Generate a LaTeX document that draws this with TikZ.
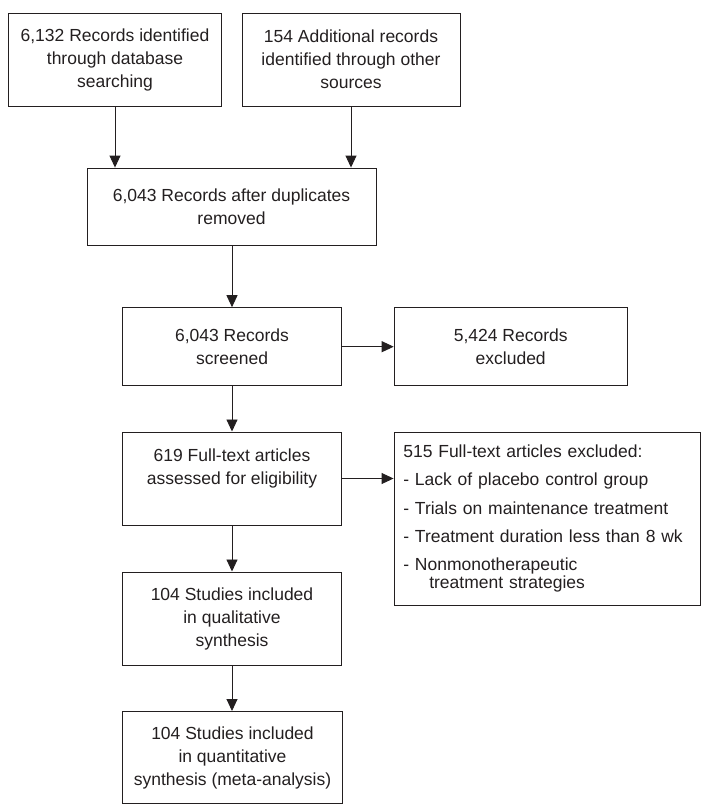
\documentclass[tikz,border=0pt]{standalone}
\usepackage{fontspec}
\setmainfont{Liberation Sans}
\usetikzlibrary{arrows.meta,calc}
\definecolor{ink}{HTML}{231F20}

\begin{document}
\begin{tikzpicture}[x=1pt,y=-1pt,
  box/.style={draw=ink, line width=1pt, inner sep=0pt, align=center, text=ink,
    font=\fontsize{17.5}{23}\selectfont},
  arr/.style={draw=ink, line width=0.9pt, -{Triangle[length=12pt,width=11pt]}}]
\useasboundingbox (0,0) rectangle (702,812);
\node [box, minimum width=213, minimum height=93] (db) at (115,59.5)
  {6,132 Records identified\\through database\\searching};
\node [box, minimum width=218, minimum height=93] (other) at (351,59.5)
  {154 Additional records\\identified through other\\sources};
\node [box, minimum width=289, minimum height=77.5] (dup) at (231.5,206.8)
  {6,043 Records after duplicates\\removed};
\node [box, minimum width=219, minimum height=78] (screen) at (232,346.7)
  {6,043 Records\\screened};
\node [box, minimum width=233, minimum height=78] (excl) at (510.7,346.7)
  {5,424 Records\\excluded};
\node [box, minimum width=219, minimum height=93] (full) at (232,478.5)
  {619 Full-text articles\\assessed for eligibility\\~};
\node [box, minimum width=306.5, minimum height=173, text width=288, align=left]
  (reasons) at (547.3,518.5)
  {515 Full-text articles excluded:\\[5.3pt]
   - Lack of placebo control group\\[5.3pt]
   - Trials on maintenance treatment\\[5.3pt]
   - Treatment duration less than 8 wk\\[5.3pt]
   - Nonmonotherapeutic\\[-5pt]
   \hspace*{26pt}treatment strategies};
\node [box, minimum width=219, minimum height=93] (qual) at (232,618.5)
  {104 Studies included\\in qualitative\\synthesis};
\node [box, minimum width=220, minimum height=92] (quant) at (232.5,757.5)
  {104 Studies included\\in quantitative\\synthesis (meta-analysis)};
\draw [arr] (db.south) -- (db.south |- dup.north);
\draw [arr] (other.south) -- (other.south |- dup.north);
\draw [arr] (dup.south -| screen.north) -- (screen.north);
\draw [arr] (screen.east) -- (excl.west);
\draw [arr] (screen.south) -- (full.north);
\draw [arr] (full.east) -- (full.east -| reasons.west);
\draw [arr] (full.south) -- (qual.north);
\draw [arr] (qual.south) -- (qual.south |- quant.north);
\end{tikzpicture}
\end{document}
